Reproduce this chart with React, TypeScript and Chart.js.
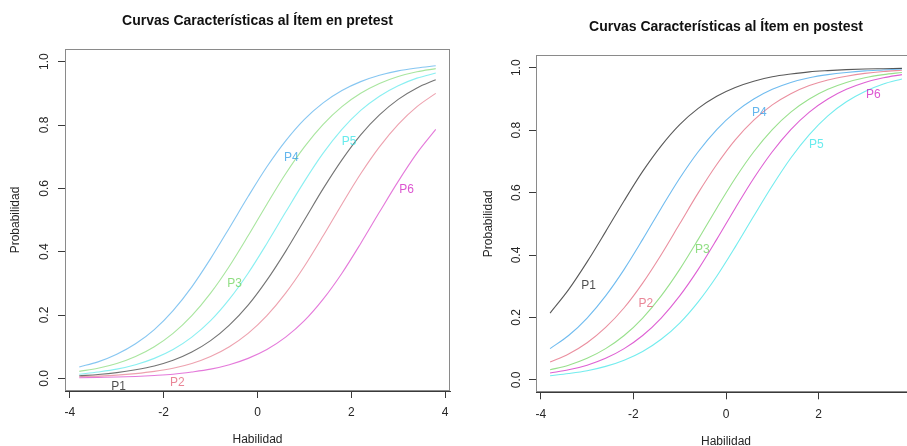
import React, { useEffect, useRef } from "react";
import { Chart, registerables } from "chart.js";

Chart.register(...registerables);

// ---------- data ----------
const habilidad = [-3.8, -3.4, -3.0, -2.6, -2.2, -1.8, -1.4, -1.0, -0.6, -0.2, 0.2, 0.6, 1.0, 1.4, 1.8, 2.2, 2.6, 3.0, 3.4, 3.8];

const itemNames = ["P1", "P2", "P3", "P4", "P5", "P6"];
const itemColors = ["#000000", "#DF536B", "#61D04F", "#2297E6", "#28E2E5", "#CD0BBC"];

const preP1 = [0.008, 0.012, 0.018, 0.027, 0.039, 0.057, 0.083, 0.119, 0.168, 0.231, 0.310, 0.401, 0.500, 0.599, 0.690, 0.769, 0.832, 0.881, 0.917, 0.943];
const preP2 = [0.005, 0.007, 0.010, 0.015, 0.022, 0.032, 0.047, 0.069, 0.100, 0.142, 0.198, 0.269, 0.354, 0.450, 0.550, 0.646, 0.731, 0.802, 0.858, 0.900];
const preP3 = [0.022, 0.032, 0.047, 0.069, 0.100, 0.142, 0.198, 0.269, 0.354, 0.450, 0.550, 0.646, 0.731, 0.802, 0.858, 0.900, 0.931, 0.953, 0.968, 0.978];
const preP4 = [0.036, 0.052, 0.076, 0.109, 0.154, 0.214, 0.289, 0.378, 0.475, 0.574, 0.668, 0.750, 0.818, 0.870, 0.909, 0.937, 0.957, 0.971, 0.980, 0.987];
const preP5 = [0.013, 0.020, 0.029, 0.043, 0.063, 0.091, 0.130, 0.182, 0.250, 0.332, 0.426, 0.525, 0.622, 0.711, 0.786, 0.846, 0.891, 0.924, 0.948, 0.964];
const preP6 = [0.002, 0.003, 0.004, 0.006, 0.009, 0.013, 0.020, 0.029, 0.043, 0.063, 0.091, 0.130, 0.182, 0.250, 0.332, 0.426, 0.525, 0.622, 0.711, 0.786];

const postP1 = [0.214, 0.289, 0.378, 0.475, 0.574, 0.668, 0.750, 0.818, 0.870, 0.909, 0.937, 0.957, 0.971, 0.980, 0.987, 0.991, 0.994, 0.996, 0.997, 0.998];
const postP2 = [0.057, 0.083, 0.119, 0.168, 0.231, 0.310, 0.401, 0.500, 0.599, 0.690, 0.769, 0.832, 0.881, 0.917, 0.943, 0.961, 0.973, 0.982, 0.988, 0.992];
const postP3 = [0.032, 0.047, 0.069, 0.100, 0.142, 0.198, 0.269, 0.354, 0.450, 0.550, 0.646, 0.731, 0.802, 0.858, 0.900, 0.931, 0.953, 0.968, 0.978, 0.985];
const postP4 = [0.100, 0.142, 0.198, 0.269, 0.354, 0.450, 0.550, 0.646, 0.731, 0.802, 0.858, 0.900, 0.931, 0.953, 0.968, 0.978, 0.985, 0.990, 0.993, 0.996];
const postP5 = [0.013, 0.020, 0.029, 0.043, 0.063, 0.091, 0.130, 0.182, 0.250, 0.332, 0.426, 0.525, 0.622, 0.711, 0.786, 0.846, 0.891, 0.924, 0.948, 0.964];
const postP6 = [0.022, 0.032, 0.047, 0.069, 0.100, 0.142, 0.198, 0.269, 0.354, 0.450, 0.550, 0.646, 0.731, 0.802, 0.858, 0.900, 0.931, 0.953, 0.968, 0.978];

const preLabelX = [-2.96, -1.71, -0.49, 0.72, 1.95, 3.18];
const preLabelY = [-0.027, -0.014, 0.30, 0.697, 0.747, 0.595];
const postLabelX = [-2.97, -1.73, -0.51, 0.72, 1.95, 3.18];
const postLabelY = [0.301, 0.245, 0.416, 0.856, 0.752, 0.915];

const xTicks = [-4, -2, 0, 2, 4];
const yTicks = [0, 0.2, 0.4, 0.6, 0.8, 1.0];

const preTitle = "Curvas Características al Ítem en pretest";
const postTitle = "Curvas Características al Ítem en postest";
const xTitle = "Habilidad";
const yTitle = "Probabilidad";

// ---------- styling ----------
const FONT = "'Liberation Sans', Arial, Helvetica, sans-serif";
const AXIS_COLOR = "#3a3a3a";
const BOX_COLOR = "#8a8a8a";
const TEXT_COLOR = "#262626";

type PanelLayout = {
  left: number;
  width: number;
  height: number;
  padTop: number;
  padRight: number;
  yAxisWidth: number;
  xAxisHeight: number;
  yTitlePad: number;
  xTitlePadBottom: number;
  xTickPad: number;
  yTickPad: number;
  titleOffset: number;
  lineAlpha: string;
  labelAlpha: string;
};

const preLayout: PanelLayout = {
  left: 0,
  width: 460,
  height: 460,
  padTop: 49,
  padRight: 10,
  yAxisWidth: 65,
  xAxisHeight: 69,
  yTitlePad: 8.8,
  xTitlePadBottom: 12.8,
  xTickPad: 7.3,
  yTickPad: 5.4,
  titleOffset: 28,
  lineAlpha: "8C",
  labelAlpha: "B3",
};

const postLayout: PanelLayout = {
  left: 460,
  width: 470,
  height: 460,
  padTop: 55.3,
  padRight: 14,
  yAxisWidth: 76,
  xAxisHeight: 67.7,
  yTitlePad: 21.1,
  xTitlePadBottom: 11.1,
  xTickPad: 8.3,
  yTickPad: 3.9,
  titleOffset: 28.3,
  lineAlpha: "A6",
  labelAlpha: "B3",
};

function makeConfig(
  series: number[][],
  labelX: number[],
  labelY: number[],
  title: string,
  L: PanelLayout
): any {
  const boxPlugin = {
    id: "rBox",
    afterDatasetsDraw(chart: any) {
      const { ctx, chartArea } = chart;
      const ca = chartArea;
      ctx.save();
      ctx.strokeStyle = BOX_COLOR;
      ctx.lineWidth = 1;
      const l = Math.round(ca.left) + 0.5;
      const t = Math.round(ca.top) + 0.5;
      const r = Math.round(ca.right) - 0.5;
      const b = Math.round(ca.bottom) - 0.5;
      ctx.strokeRect(l, t, r - l, b - t);

      // item labels
      ctx.font = `12px ${FONT}`;
      ctx.textAlign = "center";
      ctx.textBaseline = "middle";
      const xs = chart.scales.x;
      const ys = chart.scales.y;
      for (let i = 0; i < itemNames.length; i++) {
        ctx.fillStyle = itemColors[i] + L.labelAlpha;
        ctx.fillText(itemNames[i], xs.getPixelForValue(labelX[i]), ys.getPixelForValue(labelY[i]));
      }

      // main title
      ctx.font = `bold 14px ${FONT}`;
      ctx.fillStyle = "#111111";
      ctx.fillText(title, (ca.left + ca.right) / 2, ca.top - L.titleOffset);
      ctx.restore();
    },
  };

  return {
    type: "line",
    data: {
      datasets: series.map((ys, i) => ({
        label: itemNames[i],
        data: habilidad.map((x, j) => ({ x, y: ys[j] })),
        borderColor: itemColors[i] + L.lineAlpha,
        backgroundColor: itemColors[i],
        borderWidth: 1.1,
        pointRadius: 0,
        pointHoverRadius: 0,
        fill: false,
        cubicInterpolationMode: "monotone",
      })),
    },
    options: {
      responsive: false,
      animation: false,
      devicePixelRatio: 1,
      layout: { padding: { top: L.padTop, right: L.padRight, bottom: 0, left: 0 } },
      plugins: {
        legend: { display: false },
        tooltip: { enabled: false },
        title: { display: false },
      },
      events: [],
      scales: {
        x: {
          type: "linear",
          position: "bottom",
          min: -4.104,
          max: 4.104,
          afterBuildTicks: (scale: any) => {
            scale.ticks = xTicks.map((v) => ({ value: v }));
          },
          afterFit: (scale: any) => {
            scale.height = L.xAxisHeight;
          },
          grid: {
            display: true,
            drawOnChartArea: false,
            drawTicks: true,
            tickLength: 7,
            color: AXIS_COLOR,
            lineWidth: 1,
          },
          border: { display: true, color: AXIS_COLOR, width: 1 },
          ticks: {
            autoSkip: false,
            maxRotation: 0,
            minRotation: 0,
            padding: L.xTickPad,
            color: TEXT_COLOR,
            font: { family: FONT, size: 12 },
            callback: (v: any) => String(v),
          },
          title: {
            display: true,
            text: xTitle,
            color: TEXT_COLOR,
            font: { family: FONT, size: 12 },
            padding: { top: 0, bottom: L.xTitlePadBottom },
          },
        },
        y: {
          type: "linear",
          position: "left",
          min: -0.04,
          max: 1.04,
          afterBuildTicks: (scale: any) => {
            scale.ticks = yTicks.map((v) => ({ value: v }));
          },
          afterFit: (scale: any) => {
            scale.width = L.yAxisWidth;
          },
          grid: {
            display: true,
            drawOnChartArea: false,
            drawTicks: true,
            tickLength: 7,
            color: AXIS_COLOR,
            lineWidth: 1,
          },
          border: { display: true, color: AXIS_COLOR, width: 1 },
          ticks: {
            autoSkip: false,
            minRotation: 90,
            maxRotation: 90,
            crossAlign: "center",
            padding: L.yTickPad,
            color: TEXT_COLOR,
            font: { family: FONT, size: 12 },
            callback: (v: any) => Number(v).toFixed(1),
          },
          title: {
            display: true,
            text: yTitle,
            color: TEXT_COLOR,
            font: { family: FONT, size: 12 },
            padding: { top: L.yTitlePad, bottom: 0 },
          },
        },
      },
    },
    plugins: [boxPlugin],
  };
}

function Panel(props: {
  series: number[][];
  labelX: number[];
  labelY: number[];
  title: string;
  layout: PanelLayout;
}) {
  const ref = useRef<HTMLCanvasElement | null>(null);
  useEffect(() => {
    if (!ref.current) return;
    const chart = new Chart(
      ref.current,
      makeConfig(props.series, props.labelX, props.labelY, props.title, props.layout)
    );
    return () => chart.destroy();
  }, []);
  const L = props.layout;
  return (
    <canvas
      ref={ref}
      width={L.width}
      height={L.height}
      style={{ position: "absolute", left: L.left, top: 0, width: L.width, height: L.height, display: "block" }}
    />
  );
}

export default function App() {
  return (
    <div
      style={{
        position: "fixed",
        left: 0,
        top: 0,
        width: 907,
        height: 446,
        overflow: "hidden",
        background: "#ffffff",
      }}
    >
      <Panel
        series={[preP1, preP2, preP3, preP4, preP5, preP6]}
        labelX={preLabelX}
        labelY={preLabelY}
        title={preTitle}
        layout={preLayout}
      />
      <Panel
        series={[postP1, postP2, postP3, postP4, postP5, postP6]}
        labelX={postLabelX}
        labelY={postLabelY}
        title={postTitle}
        layout={postLayout}
      />
    </div>
  );
}
